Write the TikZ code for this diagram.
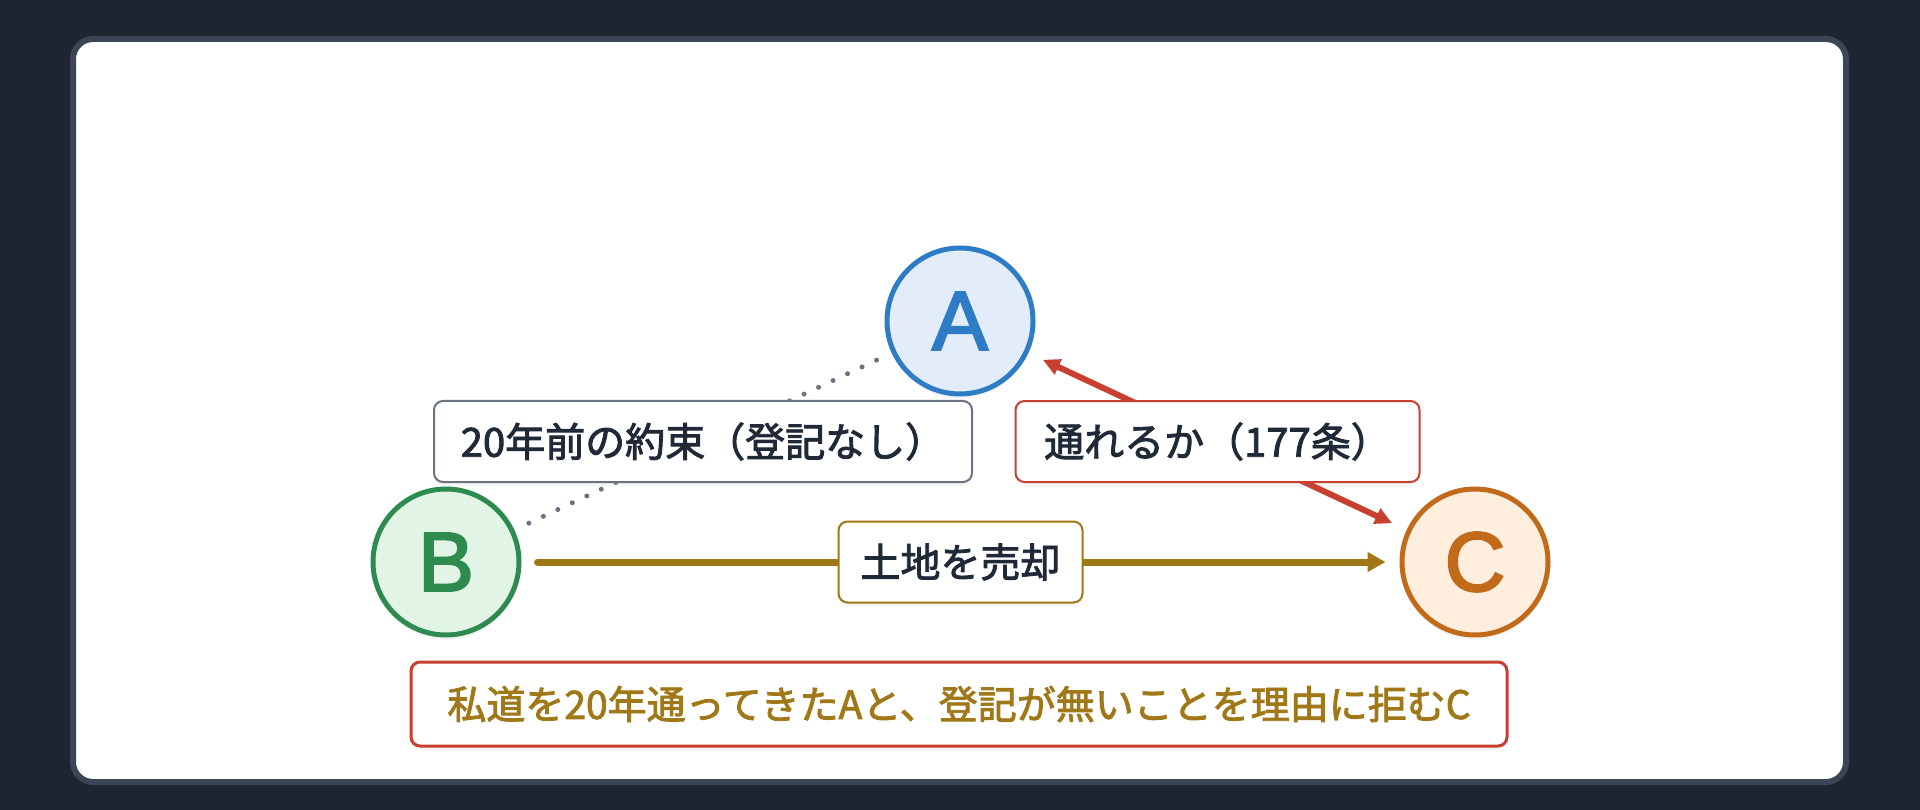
\documentclass[tikz,border=0pt]{standalone}
\usepackage{fontspec}
\setmainfont{Noto Sans CJK JP}
\newfontfamily\medfont{Noto Sans CJK JP}[FakeBold=2.2]
\newfontfamily\letterfont{Liberation Sans}[FakeBold=2.6]
\usetikzlibrary{arrows.meta,shadows}
\definecolor{bgdark}{HTML}{1E2530}
\definecolor{frame}{HTML}{3B4556}
\definecolor{txt}{HTML}{1F2937}
\definecolor{ablue}{HTML}{2F7CC6}
\definecolor{afill}{HTML}{E3EDF9}
\definecolor{bgreen}{HTML}{2E8B4F}
\definecolor{bfill}{HTML}{E2F4E6}
\definecolor{corange}{HTML}{C06A1A}
\definecolor{cfill}{HTML}{FDEEDD}
\definecolor{gold}{HTML}{A07818}
\definecolor{redc}{HTML}{C94030}
\definecolor{grayc}{HTML}{6B7280}
\tikzset{
  party/.style={circle, minimum size=146pt, inner sep=0pt, line width=5pt,
    font=\fontsize{84}{90}\letterfont,
    drop shadow={opacity=0.08, shadow xshift=0pt, shadow yshift=-5pt}},
  lab/.style={rounded corners=9pt, fill=white, solid, line width=2pt, text=txt,
    minimum height=81pt, inner sep=0pt, font=\fontsize{40}{48}\medfont,
    drop shadow={opacity=0.07, shadow xshift=0pt, shadow yshift=-4pt}},
}
\begin{document}
\begin{tikzpicture}[x=1pt,y=-1pt]
\useasboundingbox (0,0) rectangle (1920,810);
\fill[bgdark] (0,0) rectangle (1920,810);
\draw[frame, fill=white, line width=6pt, rounded corners=20pt] (73,39) rectangle (1846,782);

\node[party, draw=ablue, fill=afill, text=ablue] (A) at (960,321) {A};
\node[party, draw=bgreen, fill=bfill, text=bgreen] (B) at (446,562) {B};
\node[party, draw=corange, fill=cfill, text=corange] (C) at (1475,562) {C};

\draw[grayc, line width=5pt, line cap=round, dash pattern=on 0pt off 16pt, shorten <=16pt, shorten >=16pt]
  (B) -- (A) node[midway, lab, draw=grayc, minimum width=538pt] (L1) {20年前の約束（登記なし）};

\draw[redc, line width=6pt, {Triangle[length=17pt,width=16pt]}-{Triangle[length=17pt,width=16pt]}, shorten <=16pt, shorten >=16pt]
  (A) -- (C) node[midway, lab, draw=redc, minimum width=404pt] (L2) {通れるか（177条）};

\draw[gold, line width=7pt, line cap=round, -{Triangle[length=18pt,width=19pt]}, shorten <=16pt, shorten >=14pt]
  (B) -- (C) node[midway, lab, draw=gold, minimum width=244pt] (L3) {土地を売却};

\node[lab, draw=redc, line width=3pt, minimum width=1096pt, minimum height=84pt, text=gold,
  font=\fontsize{39}{46}\medfont] (N) at (959,704) {私道を20年通ってきたAと、登記が無いことを理由に拒むC};
\end{tikzpicture}
\end{document}
